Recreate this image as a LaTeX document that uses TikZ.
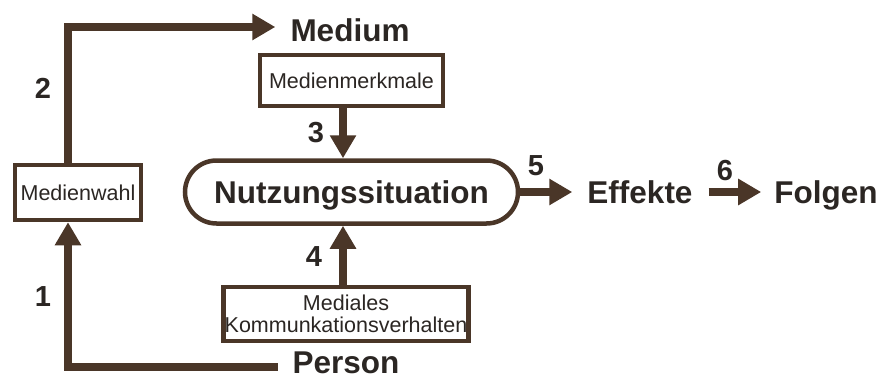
\documentclass[tikz,border=0pt]{standalone}
\usepackage{fontspec}
\setmainfont{Liberation Sans}
\usetikzlibrary{arrows.meta}
\definecolor{brn}{HTML}{4A3628}
\definecolor{ink}{HTML}{2B2623}
\begin{document}
\begin{tikzpicture}[x=1pt,y=-1pt,
  conn/.style={draw=brn, line width=8.5pt, -{Triangle[length=23pt,width=25pt]}},
  box/.style={draw=brn, line width=4.5pt, fill=white, inner sep=0pt,
    font=\fontsize{21.5}{21.5}\selectfont, text=ink, align=center},
  big/.style={font=\fontsize{31.5}{34}\selectfont\bfseries, text=ink,
    inner sep=0pt, text height=23pt, text depth=0pt},
  num/.style={font=\fontsize{29}{30}\selectfont\bfseries, text=ink, inner sep=0pt}]
\useasboundingbox (0,0) rectangle (881,380);
\fill[white] (0,0) rectangle (881,380);

% boxes
\node[box, minimum width=126pt, minimum height=55pt] (medienwahl) at (78,192.5) {Medienwahl};
\node[box, minimum width=183pt, minimum height=51pt] (merkmale) at (351.5,80.5) {Medienmerkmale};
\node[box, minimum width=245pt, minimum height=54pt] (mediales) at (346,314) {Mediales\\Kommunkationsverhalten};
\node[box, rounded corners=31.5pt, minimum width=333pt, minimum height=63pt,
  font=\fontsize{31.5}{34}\selectfont\bfseries, text height=23pt, text depth=0pt] (nutz) at (351.5,192) {Nutzungssituation};

% plain labels
\node[big] (medium) at (350,30) {Medium};
\node[big] (person) at (346,362) {Person};
\node[big] (effekte) at (640,192) {Effekte};
\node[big] (folgen) at (826,192) {Folgen};

% numbers
\node[num] (n1) at (43,297) {1};
\node[num] (n2) at (43,88) {2};
\node[num] (n3) at (316,133) {3};
\node[num] (n4) at (314,257) {4};
\node[num] (n5) at (536,166) {5};
\node[num] (n6) at (725,171) {6};

% connectors
\coordinate (ax) at (343,0);
\draw[conn] ([xshift=-14.5pt,yshift=-5pt]person.west) -| ([xshift=-10pt]medienwahl.south);
\draw[conn] ([xshift=-10pt]medienwahl.north) |- ([xshift=-15pt,yshift=3pt]medium.west);
\draw[conn] (merkmale.south -| ax) -- (nutz.north -| ax);
\draw[conn] (mediales.north -| ax) -- (nutz.south -| ax);
\draw[conn] (nutz.east) -- ([xshift=-15pt]effekte.west);
\draw[conn] ([xshift=16pt]effekte.east) -- ([xshift=-13pt]folgen.west);
\end{tikzpicture}
\end{document}
